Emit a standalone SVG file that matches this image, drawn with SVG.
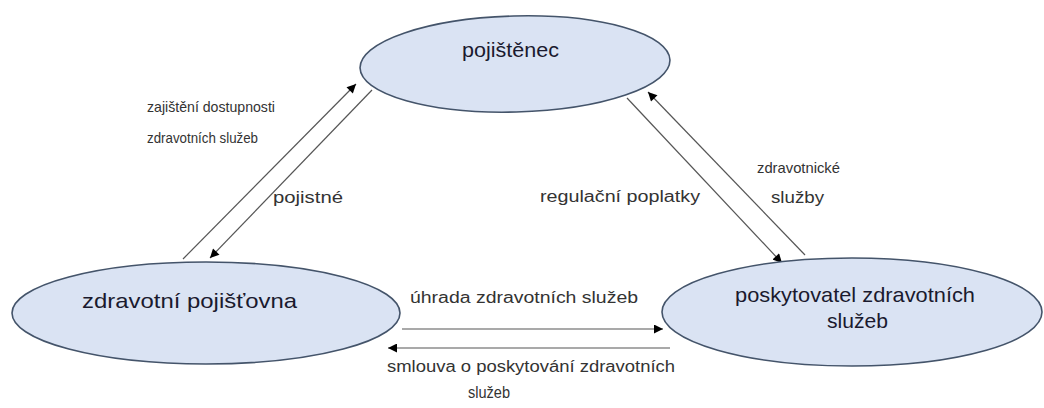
<svg xmlns="http://www.w3.org/2000/svg" width="1044" height="408" viewBox="0 0 1044 408">
<style>
.node{fill:#dae3f3;stroke:#44546a;stroke-width:1.6}
.nt{font-family:"Liberation Sans",Arial,sans-serif;font-size:21px;fill:#1a1a2e}
.et{font-family:"Liberation Sans",Arial,sans-serif;font-size:16px;fill:#333333}
.es{font-size:15px}
.conn{stroke:#555555;stroke-width:1.2;fill:none;marker-end:url(#ah)}
</style>
<defs>
<marker id="ah" viewBox="0 0 10 10" refX="10" refY="5" markerWidth="10" markerHeight="9" markerUnits="userSpaceOnUse" orient="auto">
<path d="M0,0 L10,5 L0,10 z" fill="#000"/>
</marker>
</defs>
<rect width="1044" height="408" fill="#fff"/>
<g id="connectors">
<line class="conn" x1="183" y1="259" x2="356" y2="84"/>
<line class="conn" x1="372" y1="90" x2="210" y2="258"/>
<line class="conn" x1="627" y1="98" x2="782" y2="263"/>
<line class="conn" x1="805" y1="255" x2="648" y2="92"/>
<line class="conn" x1="402" y1="329" x2="663" y2="329"/>
<line class="conn" x1="670" y1="348" x2="388" y2="348"/>
<text class="et es" x="147" y="112" textLength="128" lengthAdjust="spacingAndGlyphs">zajištění dostupnosti</text>
<text class="et es" x="147" y="143" textLength="111" lengthAdjust="spacingAndGlyphs">zdravotních služeb</text>
<text class="et" x="273" y="203" textLength="70" lengthAdjust="spacingAndGlyphs">pojistné</text>
<text class="et" x="540" y="202" textLength="160" lengthAdjust="spacingAndGlyphs">regulační poplatky</text>
<text class="et es" x="757" y="173" textLength="83" lengthAdjust="spacingAndGlyphs">zdravotnické</text>
<text class="et" x="771" y="203" textLength="53" lengthAdjust="spacingAndGlyphs">služby</text>
<text class="et" x="410" y="303" textLength="228" lengthAdjust="spacingAndGlyphs">úhrada zdravotních služeb</text>
<text class="et" x="387" y="372" textLength="288" lengthAdjust="spacingAndGlyphs">smlouva o poskytování zdravotních</text>
<text class="et" x="468" y="398" textLength="42" lengthAdjust="spacingAndGlyphs">služeb</text>
</g>
<g id="pojistenec">
<ellipse class="node" cx="515" cy="64" rx="155" ry="48" transform="rotate(-1.5 515 64)"/>
<text class="nt" x="462" y="57" textLength="97" lengthAdjust="spacingAndGlyphs">pojištěnec</text>
</g>
<g id="zdravotni-pojistovna">
<ellipse class="node" cx="206" cy="313" rx="194" ry="51"/>
<text class="nt" x="82" y="308" textLength="215" lengthAdjust="spacingAndGlyphs">zdravotní  pojišťovna</text>
</g>
<g id="poskytovatel">
<ellipse class="node" cx="852" cy="312" rx="190" ry="54"/>
<text class="nt" x="735" y="302" textLength="240" lengthAdjust="spacingAndGlyphs">poskytovatel zdravotních</text>
<text class="nt" x="827" y="328" textLength="61" lengthAdjust="spacingAndGlyphs">služeb</text>
</g>
</svg>
